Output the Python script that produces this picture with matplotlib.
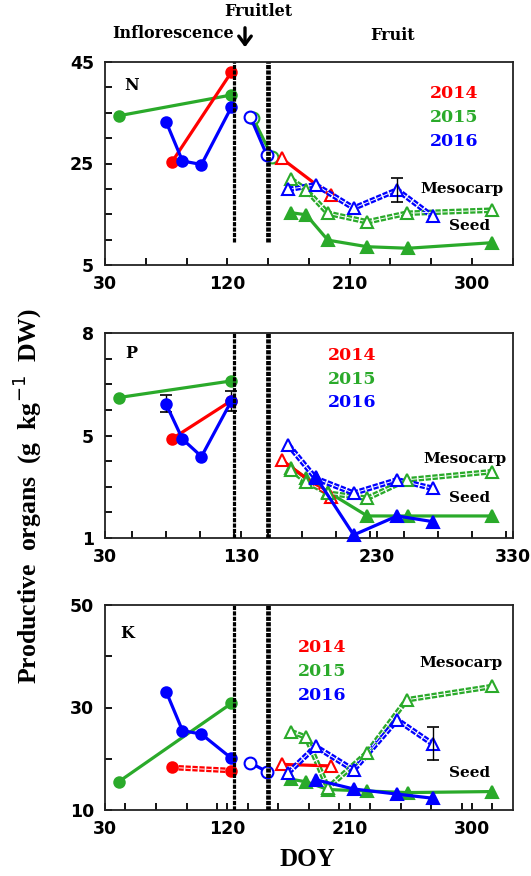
import matplotlib
matplotlib.use("Agg")
import matplotlib.pyplot as plt
from matplotlib.ticker import MultipleLocator, FixedLocator, FixedFormatter

plt.rcParams['lines.scale_dashes'] = False

W, H = 531, 876
RED, GREEN, BLUE = '#ff0000', '#2aaa2a', '#0000ff'

# ---------------- sampling dates (DOY) ----------------
infl_2014_doy = [79, 123]
infl_2015_doy = [40, 123]
infl_2016_doy = [75, 87, 101, 123]
fruitlet_2015_doy = [139, 153]
fruitlet_2016_doy = [137, 149]
meso_2014_doy = [160, 196]
meso_2015_doy = [167, 178, 194, 223, 252, 315]
meso_2016_doy = [165, 185, 213, 245, 271]
seed_2015_doy = [167, 178, 194, 223, 253, 315]
seed_2016_doy = [185, 213, 245, 271]

# ---------------- N (g kg-1 DW) ----------------
N_infl_2014 = [25.2, 43.0]
N_infl_2015 = [34.4, 38.5]
N_infl_2016 = [33.2, 25.5, 24.8, 36.1]
N_fruitlet_2015 = [33.9, 26.3]
N_fruitlet_2016 = [34.2, 26.7]
N_meso_2014 = [26.0, 18.7]
N_meso_2015 = [21.9, 19.8, 15.2, 13.5, 15.2, 15.8]
N_meso_2016 = [19.9, 20.8, 16.2, 19.8, 14.6]
N_seed_2015 = [15.3, 14.9, 9.9, 8.6, 8.3, 9.4]
N_err_doy = [245]
N_err_val = [19.8]
N_err_sd = [2.4]

# ---------------- P (axis units) ----------------
P_infl_2014 = [4.86, 6.36]
P_infl_2015 = [6.48, 7.13]
P_infl_2016 = [6.22, 4.86, 4.18, 6.35]
P_meso_2014 = [4.05, 2.61]
P_meso_2015 = [3.66, 3.20, 2.75, 2.55, 3.27, 3.59]
P_meso_2016 = [4.63, 3.33, 2.75, 3.27, 2.94]
P_seed_2015 = [3.75, 3.35, 2.80, 1.86, 1.86, 1.86]
P_seed_2016 = [3.40, 1.12, 1.86, 1.64]
P_err_doy = [75, 123]
P_err_val = [6.25, 6.36]
P_err_sd = [0.35, 0.39]

# ---------------- K ----------------
K_infl_2014 = [18.3, 17.7]
K_infl_2015 = [15.5, 30.8]
K_infl_2016 = [33.1, 25.5, 24.8, 20.1]
K_fruitlet_2016 = [19.2, 17.5]
K_meso_2014 = [18.9, 18.6]
K_meso_2015 = [25.3, 24.2, 14.3, 21.2, 31.5, 34.1]
K_meso_2016 = [17.3, 22.4, 17.8, 27.6, 22.9]
K_seed_2015 = [16.0, 15.5, 14.0, 13.7, 13.4, 13.6]
K_seed_2016 = [15.9, 14.1, 13.1, 12.3]
K_err_doy = [271]
K_err_val = [22.9]
K_err_sd = [3.2]

phase_lines = [125, 150]
years = ['2014', '2015', '2016']

fig = plt.figure(figsize=(W / 100, H / 100), dpi=100)


def ax_rect(top, bottom, left=105, right=512.7):
    return [left / W, 1 - bottom / H, (right - left) / W, (bottom - top) / H]


SERIF = 'DejaVu Serif'
LW = 2.3
DASH = (3.8, 1.2)


def solid(ax, x, y, c, marker, filled=True, ms=7.5, z=3):
    ax.plot(x, y, color=c, lw=LW, marker=marker, ms=ms,
            mfc=c if filled else 'white', mec=c, mew=1.5, zorder=z, clip_on=False)


def dashed(ax, x, y, c, marker, filled=False, ms=9, z=3):
    ax.plot(x, y, color=c, lw=4.0, ls=(0, DASH), zorder=z, clip_on=False)
    ax.plot(x, y, color='white', lw=0.7, ls=(0, DASH), zorder=z + 0.1, clip_on=False)
    ax.plot(x, y, ls='none', marker=marker, ms=ms, mfc=c if filled else 'white',
            mec=c, mew=1.5, zorder=z + 0.2, clip_on=False)


def style(ax, ylim, major_x, minor_x, yt, ytl, minor_y, xlbls):
    ax.set_xlim(30, 330)
    ax.set_ylim(*ylim)
    ax.xaxis.set_major_locator(FixedLocator(major_x))
    ax.xaxis.set_major_formatter(FixedFormatter(xlbls))
    ax.xaxis.set_minor_locator(MultipleLocator(minor_x))
    ax.yaxis.set_major_locator(FixedLocator(yt))
    ax.yaxis.set_major_formatter(FixedFormatter(ytl))
    ax.yaxis.set_minor_locator(MultipleLocator(minor_y))
    ax.tick_params(which='both', direction='in', length=5, width=1.3,
                   top=False, right=False)
    ax.tick_params(axis='x', pad=7)
    ax.tick_params(axis='y', pad=8)
    for lab in ax.get_xticklabels() + ax.get_yticklabels():
        lab.set_fontfamily('DejaVu Sans')
        lab.set_fontweight('bold')
        lab.set_fontsize(12.5)
    for s in ax.spines.values():
        s.set_linewidth(1.3)
        s.set_color('#222222')


def vlines(ax, ymin=0.0):
    ax.axvline(phase_lines[0], ymin=ymin, ymax=1, color='black', lw=2.3,
               ls=(0, (3, 0.9)), zorder=5)
    ax.axvline(phase_lines[1], ymin=ymin, ymax=1, color='black', lw=3.4,
               ls=(0, (3, 0.9)), zorder=5)


def ftext(px, py, s, color='black', size=11, ha='center'):
    fig.text(px / W, 1 - py / H, s, color=color, fontsize=size, ha=ha, va='center',
             family=SERIF, fontweight='bold')


def year_legend(px, pys):
    for y, c, py in zip(years, [RED, GREEN, BLUE], pys):
        ftext(px, py, y, color=c, size=12.5)


# ================= N =================
ax1 = fig.add_axes(ax_rect(62, 265))
style(ax1, (5, 45), [30, 120, 210, 300], 30, [5, 25, 45], ['5', '25', '45'], 5,
      ['30', '120', '210', '300'])
solid(ax1, infl_2015_doy, N_infl_2015, GREEN, 'o')
solid(ax1, infl_2014_doy, N_infl_2014, RED, 'o')
solid(ax1, infl_2016_doy, N_infl_2016, BLUE, 'o')
solid(ax1, fruitlet_2015_doy, N_fruitlet_2015, GREEN, 'o', filled=False, ms=8.5)
solid(ax1, fruitlet_2016_doy, N_fruitlet_2016, BLUE, 'o', filled=False, ms=8.5)
solid(ax1, seed_2015_doy, N_seed_2015, GREEN, '^', ms=9)
dashed(ax1, meso_2015_doy, N_meso_2015, GREEN, '^')
solid(ax1, meso_2014_doy, N_meso_2014, RED, '^', filled=False, ms=9)
dashed(ax1, meso_2016_doy, N_meso_2016, BLUE, '^')
ax1.errorbar(N_err_doy, N_err_val, yerr=N_err_sd, fmt='none', ecolor='black',
             elinewidth=1.0, capsize=4, capthick=1.2, zorder=6)
vlines(ax1, ymin=(265 - 242) / 203)
ftext(132, 85, 'N', size=11.5)
year_legend(454, [93, 117, 141])
ftext(462, 189, 'Mesocarp', size=11)
ftext(470, 226, 'Seed', size=11)

# ================= P =================
ax2 = fig.add_axes(ax_rect(333, 538))
style(ax2, (1, 9), [30, 130, 230, 330], 25, [1, 5, 9], ['1', '5', '8'], 1,
      ['30', '130', '230', '330'])
solid(ax2, infl_2015_doy, P_infl_2015, GREEN, 'o')
solid(ax2, infl_2014_doy, P_infl_2014, RED, 'o')
solid(ax2, infl_2016_doy, P_infl_2016, BLUE, 'o')
ax2.errorbar(P_err_doy, P_err_val, yerr=P_err_sd, fmt='none', ecolor='black',
             elinewidth=1.0, capsize=4, capthick=1.2, zorder=2)
solid(ax2, seed_2015_doy, P_seed_2015, GREEN, '^', ms=9)
dashed(ax2, meso_2015_doy, P_meso_2015, GREEN, '^')
solid(ax2, meso_2014_doy, P_meso_2014, RED, '^', filled=False, ms=9)
dashed(ax2, meso_2016_doy, P_meso_2016, BLUE, '^')
solid(ax2, seed_2016_doy, P_seed_2016, BLUE, '^', ms=9, z=4)
vlines(ax2)
ftext(131, 353, 'P', size=11.5)
year_legend(352, [355, 379, 402])
ftext(465, 459, 'Mesocarp', size=11)
ftext(470, 498, 'Seed', size=11)

# ================= K =================
ax3 = fig.add_axes(ax_rect(605, 810))
style(ax3, (10, 50), [30, 120, 210, 300], 22.5, [10, 30, 50], ['10', '30', '50'], 10,
      ['30', '120', '210', '300'])
solid(ax3, infl_2015_doy, K_infl_2015, GREEN, 'o')
dashed(ax3, infl_2014_doy, K_infl_2014, RED, 'o', filled=True, ms=7.5)
solid(ax3, infl_2016_doy, K_infl_2016, BLUE, 'o')
solid(ax3, fruitlet_2016_doy, K_fruitlet_2016, BLUE, 'o', filled=False, ms=8.5)
solid(ax3, seed_2015_doy, K_seed_2015, GREEN, '^', ms=9)
dashed(ax3, meso_2015_doy, K_meso_2015, GREEN, '^')
solid(ax3, meso_2014_doy, K_meso_2014, RED, '^', filled=False, ms=9)
dashed(ax3, meso_2016_doy, K_meso_2016, BLUE, '^')
solid(ax3, seed_2016_doy, K_seed_2016, BLUE, '^', ms=9, z=4)
ax3.errorbar(K_err_doy, K_err_val, yerr=K_err_sd, fmt='none', ecolor='black',
             elinewidth=1.0, capsize=4, capthick=1.2, zorder=6)
vlines(ax3)
ftext(127, 633, 'K', size=11.5)
year_legend(322, [647, 671, 695])
ftext(461, 663, 'Mesocarp', size=11)
ftext(470, 773, 'Seed', size=11)

# ================= labels =================
ftext(258, 12, 'Fruitlet', size=11.5)
ftext(173, 34, 'Inflorescence', size=11.5)
ftext(393, 35, 'Fruit', size=11.5)
fig.add_artist(matplotlib.patches.FancyArrowPatch(
    (245 / W, 1 - 25 / H), (245 / W, 1 - 50 / H), transform=fig.transFigure,
    arrowstyle='->,head_length=6,head_width=4.5', lw=2.4, color='black',
    mutation_scale=1))

fig.text(307 / W, 1 - 860 / H, 'DOY', family='Liberation Serif', fontweight='bold',
         fontsize=18, ha='center', va='center')
fig.text(27 / W, 1 - 496 / H, 'Productive  organs  (g  kg$^{-1}$  DW)',
         family='Liberation Serif', fontweight='bold', fontsize=18.5,
         rotation=90, ha='center', va='center')

fig.savefig('out.png', dpi=100)
